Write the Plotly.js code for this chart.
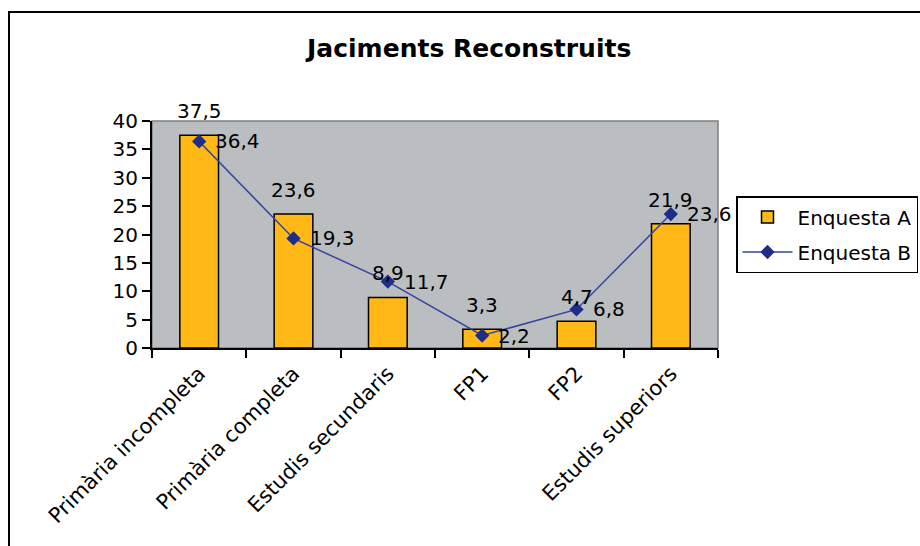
<!DOCTYPE html>
<html>
<head>
<meta charset="utf-8">
<script src="https://cdn.plot.ly/plotly-3.0.1.min.js"></script>
<style>
  html, body { margin: 0; padding: 0; background: #ffffff; }
  #chart { width: 920px; height: 546px; }
</style>
</head>
<body>
<div id="chart"></div>
<script>
const categories = ["Primària incompleta", "Primària completa", "Estudis secundaris", "FP1", "FP2", "Estudis superiors"];
const enquestaA = [37.5, 23.6, 8.9, 3.3, 4.7, 21.9];
const enquestaB = [36.4, 19.3, 11.7, 2.2, 6.8, 23.6];
const yTicks = [0, 5, 10, 15, 20, 25, 30, 35, 40];

const fmt = v => String(v).replace('.', ',');
const FONT = 'DejaVu Sans, Verdana, sans-serif';
const LABEL_FONT = { family: FONT, size: 20, color: '#000000' };

const traceA = {
  type: 'bar',
  name: 'Enquesta A',
  x: categories,
  y: enquestaA,
  width: 0.41,
  marker: { color: '#FFB816', line: { color: '#000000', width: 1.5 } },
  legendgroup: 'a',
  hoverinfo: 'skip'
};

const traceB = {
  type: 'scatter',
  mode: 'lines+markers',
  name: 'Enquesta B',
  x: categories,
  y: enquestaB,
  line: { color: '#3444A0', width: 1.5 },
  marker: { symbol: 'diamond', size: 11, color: '#1F2D8A' },
  cliponaxis: false,
  legendgroup: 'b',
  hoverinfo: 'skip'
};

const annA = categories.map((c, i) => ({
  x: c, y: enquestaA[i], xref: 'x', yref: 'y',
  text: fmt(enquestaA[i]), showarrow: false,
  xanchor: 'center', yanchor: 'bottom', yshift: 10,
  font: LABEL_FONT
}));
const annB = categories.map((c, i) => ({
  x: c, y: enquestaB[i], xref: 'x', yref: 'y',
  text: fmt(enquestaB[i]), showarrow: false,
  xanchor: 'left', yanchor: 'middle', xshift: 14,
  font: LABEL_FONT
}));

const L = 152, R = 718, T = 121, B = 348, W = 920, H = 546;
const px2x = p => (p - L) / (R - L);
const px2y = p => (B - p) / (B - T);

const layout = {
  width: W,
  height: H,
  margin: { l: L, r: W - R, t: T, b: H - B, pad: 0, autoexpand: false },
  paper_bgcolor: '#ffffff',
  plot_bgcolor: '#BABEC1',
  font: { family: FONT, size: 20, color: '#000000' },
  title: {
    text: '<b>Jaciments Reconstruits</b>',
    font: { family: FONT, size: 25, color: '#000000' },
    x: 0.51, xanchor: 'center',
    y: 1 - 48 / H, yanchor: 'middle'
  },
  showlegend: true,
  legend: {
    xref: 'container', yref: 'container',
    x: 736 / W, xanchor: 'left',
    y: 1 - 196 / H, yanchor: 'top',
    bordercolor: '#000000', borderwidth: 1.5,
    bgcolor: '#ffffff',
    font: { family: FONT, size: 20, color: '#000000' },
    traceorder: 'grouped',
    tracegroupgap: 6,
    itemwidth: 50
  },
  xaxis: {
    type: 'category',
    range: [-0.5, categories.length - 0.5],
    autorange: false,
    tickangle: -45,
    tickson: 'boundaries',
    ticks: 'outside',
    ticklen: 8,
    tickwidth: 2,
    tickcolor: '#000000',
    ticklabelstandoff: 3,
    showline: true,
    linecolor: '#000000',
    linewidth: 2,
    showgrid: false,
    zeroline: false,
    tickfont: { family: FONT, size: 21, color: '#000000' },
    fixedrange: true
  },
  yaxis: {
    range: [0, 40],
    autorange: false,
    tickvals: yTicks,
    ticktext: yTicks.map(String),
    ticks: 'outside',
    ticklen: 8,
    tickwidth: 2,
    tickcolor: '#000000',
    showline: true,
    linecolor: '#000000',
    linewidth: 2,
    showgrid: false,
    zeroline: false,
    tickfont: { family: FONT, size: 20, color: '#000000' },
    fixedrange: true
  },
  annotations: annA.concat(annB),
  shapes: [
    {
      type: 'rect', xref: 'paper', yref: 'paper',
      x0: 0, x1: 1, y0: 0, y1: 1,
      line: { color: '#808080', width: 1.5 },
      layer: 'below'
    },
    {
      type: 'rect', xref: 'paper', yref: 'paper',
      x0: px2x(9), x1: px2x(940), y0: px2y(566), y1: px2y(12),
      line: { color: '#000000', width: 2 },
      fillcolor: 'rgba(0,0,0,0)'
    }
  ]
};

Plotly.newPlot('chart', [traceA, traceB], layout, { staticPlot: true, displayModeBar: false });
</script>
</body>
</html>
